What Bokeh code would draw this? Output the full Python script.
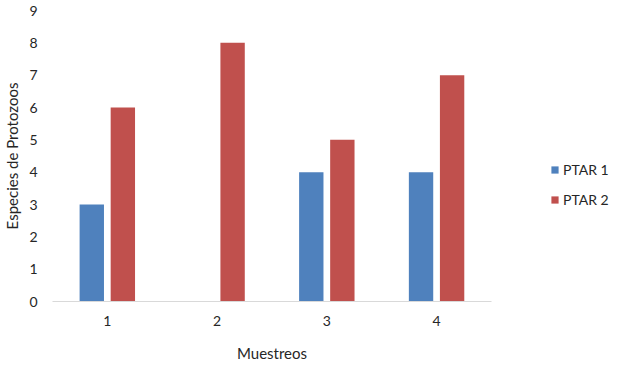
from bokeh.plotting import figure
from bokeh.models import ColumnDataSource, Range1d, FixedTicker, Legend, LegendItem
from bokeh.transform import dodge
from bokeh.embed import file_html
from bokeh.resources import INLINE

muestreos = [1, 2, 3, 4]
tick_labels = {1: "1", 2: "2", 3: "3", 4: "4"}
ptar1 = [3, 0, 4, 4]
ptar2 = [6, 8, 5, 7]
series_names = ["PTAR 1", "PTAR 2"]

FONT = "Lato"
TXT = "#262626"

src = ColumnDataSource(dict(x=muestreos, p1=ptar1, p2=ptar2))

p = figure(frame_width=439, frame_height=291, output_backend="svg", toolbar_location=None,
           x_range=Range1d(0.5, 4.5), y_range=Range1d(0, 9),
           min_border_left=51, min_border_right=133, min_border_top=10, min_border_bottom=71)
p.outline_line_color = None
p.grid.grid_line_color = None

r1 = p.vbar(x=dodge("x", -0.142), top="p1", width=0.222, source=src,
            fill_color="#4F81BD", line_color=None)
r2 = p.vbar(x=dodge("x", 0.141), top="p2", width=0.222, source=src,
            fill_color="#C0504D", line_color=None)

p.xaxis.ticker = FixedTicker(ticks=muestreos)
p.xaxis.major_label_overrides = tick_labels
p.yaxis.ticker = FixedTicker(ticks=list(range(0, 10)))

for ax in (p.xaxis, p.yaxis):
    ax.major_tick_line_color = None
    ax.minor_tick_line_color = None
    ax.major_label_text_font = FONT
    ax.major_label_text_font_size = "14px"
    ax.major_label_text_color = TXT
    ax.axis_label_text_font = FONT
    ax.axis_label_text_font_size = "15px"
    ax.axis_label_text_font_style = "normal"
    ax.axis_label_text_color = TXT

p.xaxis.axis_line_color = "#D9D9D9"
p.yaxis.axis_line_color = None
p.xaxis.axis_label = "Muestreos"
p.yaxis.axis_label = "Especies de Protozoos"
p.xaxis.major_label_standoff = 8
p.xaxis.axis_label_standoff = 15
p.yaxis.major_label_standoff = 9
p.yaxis.axis_label_standoff = 5

legend = Legend(items=[LegendItem(label=series_names[0], renderers=[r1]),
                       LegendItem(label=series_names[1], renderers=[r2])],
                location=(59, 92))
legend.border_line_color = None
legend.background_fill_alpha = 0
legend.glyph_width = 9
legend.glyph_height = 9
legend.label_standoff = 4
legend.label_height = 20
legend.spacing = 10
legend.padding = 10
legend.margin = 0
legend.label_text_font = FONT
legend.label_text_font_size = "14px"
legend.label_text_color = TXT
p.add_layout(legend, "right")

open("out.html", "w").write(file_html(p, INLINE))
